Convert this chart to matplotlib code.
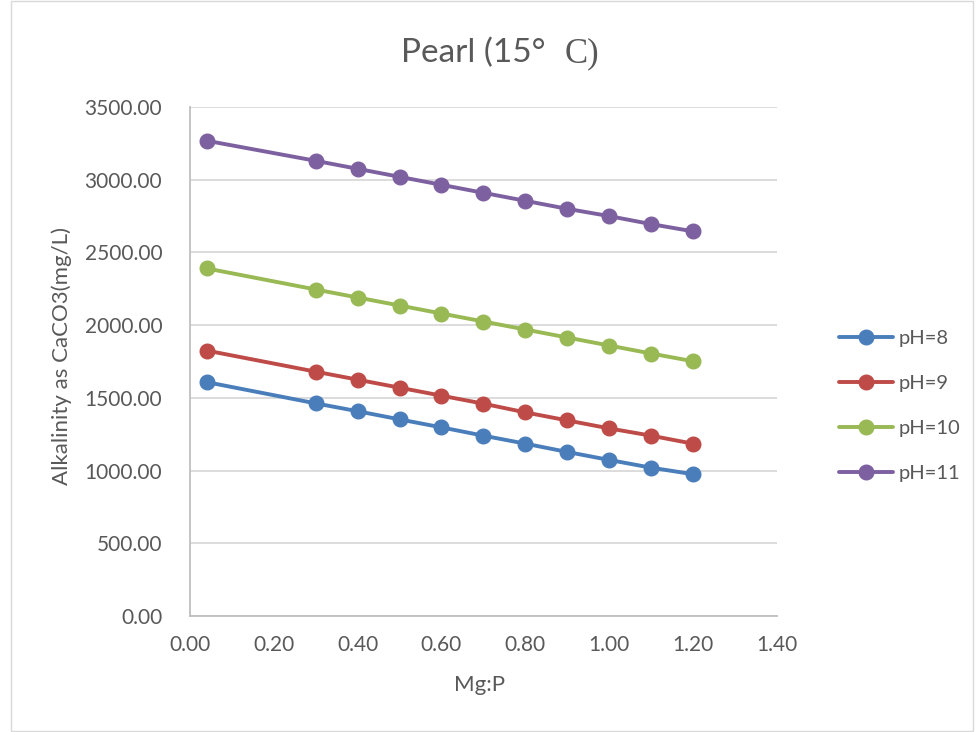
import matplotlib.pyplot as plt
from matplotlib.patches import Rectangle

# Mg:P ratio
mg_p = [0.04, 0.3, 0.4, 0.5, 0.6, 0.7, 0.8, 0.9, 1.0, 1.1, 1.2]

# alkalinity (mg/L as CaCO3) for each pH
ph8 = [1608, 1462, 1408, 1352, 1297, 1240, 1185, 1128, 1073, 1020, 975]
ph9 = [1825, 1680, 1625, 1570, 1515, 1460, 1400, 1345, 1290, 1240, 1185]
ph10 = [2390, 2245, 2190, 2135, 2080, 2025, 1970, 1915, 1860, 1805, 1752]
ph11 = [3268, 3130, 3075, 3020, 2965, 2910, 2855, 2800, 2750, 2695, 2645]

series_names = ["pH=8", "pH=9", "pH=10", "pH=11"]
colors = ["#4a7ebb", "#be4b48", "#98b954", "#7d60a0"]

y_ticks = [0, 500, 1000, 1500, 2000, 2500, 3000, 3500]
x_ticks = [0.0, 0.2, 0.4, 0.6, 0.8, 1.0, 1.2, 1.4]

txt = "#595959"
plt.rcParams["font.family"] = ["Lato", "DejaVu Sans"]

fig = plt.figure(figsize=(9.77, 7.32), dpi=100)
ax = fig.add_axes([0.1945, 0.1585, 0.6005, 0.6953])

for vals, name, c in zip([ph8, ph9, ph10, ph11], series_names, colors):
    ax.plot(mg_p, vals, color=c, lw=2.8, marker="o", markersize=10.5,
            label=name, solid_capstyle="round")

ax.set_xlim(0, 1.4)
ax.set_ylim(0, 3500)
ax.set_xticks(x_ticks)
ax.set_yticks(y_ticks)
ax.set_xticklabels([f"{v:.2f}" for v in x_ticks])
ax.set_yticklabels([f"{v:.2f}" for v in y_ticks])
ax.tick_params(length=0, labelsize=15, colors=txt)
ax.tick_params(axis="x", pad=14)
ax.tick_params(axis="y", pad=20)
ax.grid(axis="y", color="#d9d9d9", lw=1.3)
ax.set_axisbelow(True)
for s in ["top", "right"]:
    ax.spines[s].set_visible(False)
for s in ["left", "bottom"]:
    ax.spines[s].set_color("#bfbfbf")
    ax.spines[s].set_linewidth(1.3)

ax.set_xlabel("Mg:P", fontsize=16, color=txt)
ax.set_ylabel("Alkalinity as CaCO3(mg/L)", fontsize=16, color=txt)
ax.xaxis.set_label_coords(0.494, -0.116)
ax.yaxis.set_label_coords(-0.201, 0.51)

# title: mixed fonts like the original
fig.text(0.558, 0.915, "Pearl (15°", fontsize=24, color=txt, ha="right", va="baseline")
fig.text(0.578, 0.915, "C)", fontsize=25, color=txt, ha="left", va="baseline",
         family="Liberation Serif")

fig.legend(loc="center left", bbox_to_anchor=(0.8588, 0.4454), frameon=False,
           fontsize=14.5, labelcolor=txt, handlelength=2.7, handletextpad=0.25,
           labelspacing=1.38, borderpad=0, borderaxespad=0)

# chart border
fig.patches.append(Rectangle((0.011, 0.002), 0.985, 0.996, transform=fig.transFigure,
                             fill=False, edgecolor="#d9d9d9", lw=1))

plt.savefig("out.png", dpi=100)
